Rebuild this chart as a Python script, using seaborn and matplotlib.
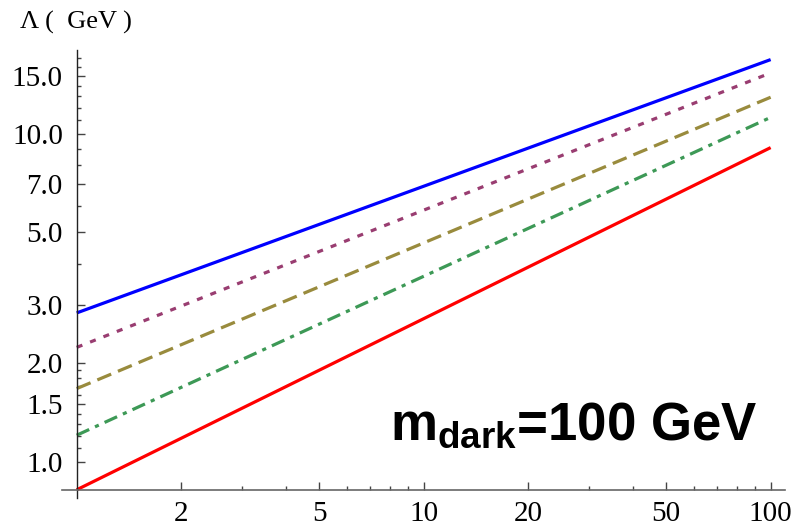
import matplotlib
matplotlib.use("Agg")
import matplotlib.pyplot as plt
import matplotlib.ticker as mticker
import seaborn as sns
import pandas as pd

# ---- data (lines are straight in log-log) ----
x_end = [1, 100]
lam_blue = [2.84, 16.8]
lam_purple = [2.23, 15.3]
lam_olive = [1.67, 12.9]
lam_green = [1.204, 11.2]
lam_red = [0.821, 9.06]

yticks = [1.0, 1.5, 2.0, 3.0, 5.0, 7.0, 10.0, 15.0]
yminor = [1.1, 1.2, 1.3, 1.4, 1.6, 1.7, 1.8, 1.9, 4, 6, 8, 9, 11, 12, 13, 14, 16, 17]
xticks = [2, 5, 10, 20, 50, 100]
xminor = [3, 4, 6, 7, 8, 9, 30, 40, 60, 70, 80, 90]

series = ["blue", "purple", "olive", "green", "red"]
values = [lam_blue, lam_purple, lam_olive, lam_green, lam_red]

rows = []
for s, v in zip(series, values):
    for xx, yy in zip(x_end, v):
        rows.append({"x": xx, "lam": yy, "series": s})
df = pd.DataFrame(rows)

sns.set_style("white")
plt.rcParams["font.family"] = ["Liberation Serif", "DejaVu Serif"]
plt.rcParams["text.color"] = "black"
plt.rcParams["xtick.color"] = "black"
plt.rcParams["ytick.color"] = "black"
plt.rcParams["mathtext.fontset"] = "custom"
plt.rcParams["mathtext.rm"] = "Liberation Sans:bold"
plt.rcParams["mathtext.bf"] = "Liberation Sans:bold"
plt.rcParams["mathtext.it"] = "Liberation Sans:bold"

colors = {
    "blue": (0, 0, 1),
    "purple": (0.6, 0.24, 0.443),
    "olive": (0.6, 0.547, 0.24),
    "green": (0.24, 0.6, 0.337),
    "red": (1, 0, 0),
}
styles = {
    "blue": "-",
    "purple": (0, (1.9, 2.6)),
    "olive": (0, (4.7, 2.3)),
    "green": (0, (4.3, 2.0, 1.3, 2.0)),
    "red": "-",
}

fig = plt.figure(figsize=(7.92, 5.31), dpi=100)
ax = fig.add_axes([62 / 792, 1 - 498 / 531, (785 - 62) / 792, (498 - 50) / 531])

for s in series:
    sns.lineplot(data=df[df.series == s], x="x", y="lam", ax=ax,
                 color=colors[s], linewidth=2.3, linestyle=styles[s],
                 legend=False, solid_capstyle="butt", dash_capstyle="butt")

ax.set_xscale("log")
ax.set_yscale("log")
ax.set_xlim(0.907, 110)
ax.set_ylim(0.775, 17.97)

for side in ["top", "right"]:
    ax.spines[side].set_visible(False)
ax.spines["left"].set_position(("data", 1))
ax.spines["bottom"].set_position(("data", 0.821))
ax.spines["left"].set_color("#222222")
ax.spines["bottom"].set_color("#666666")
ax.spines["left"].set_linewidth(1.0)
ax.spines["bottom"].set_linewidth(1.2)

ax.yaxis.set_major_locator(mticker.FixedLocator(yticks))
ax.yaxis.set_minor_locator(mticker.FixedLocator(yminor))
ax.yaxis.set_major_formatter(mticker.FixedFormatter([f"{v:.1f}" for v in yticks]))
ax.yaxis.set_minor_formatter(mticker.NullFormatter())
ax.xaxis.set_major_locator(mticker.FixedLocator(xticks))
ax.xaxis.set_minor_locator(mticker.FixedLocator(xminor))
ax.xaxis.set_major_formatter(mticker.FixedFormatter([str(v) for v in xticks]))
ax.xaxis.set_minor_formatter(mticker.NullFormatter())

ax.tick_params(axis="y", which="major", direction="in", length=6, width=1,
               color="#444444", labelsize=21, pad=10, left=True)
ax.tick_params(axis="y", which="minor", direction="in", length=3, width=1,
               color="#444444", left=True)
ax.tick_params(axis="x", which="major", direction="in", length=6, width=1,
               color="#444444", labelsize=21, pad=8, bottom=True)
ax.tick_params(axis="x", which="minor", direction="in", length=3, width=1,
               color="#444444", bottom=True)
ax.set_xlabel("")
ax.set_ylabel("")

fig.text(20 / 792, 1 - 29 / 531, "Λ (  GeV )", fontsize=19, ha="left", va="baseline")
fig.text(390 / 792, 1 - 440 / 531, r"m$_{\mathbf{dark}}$=100 GeV",
         fontsize=38, fontweight="bold", family=["Liberation Sans"],
         ha="left", va="baseline")

fig.savefig("out.png", dpi=100)
